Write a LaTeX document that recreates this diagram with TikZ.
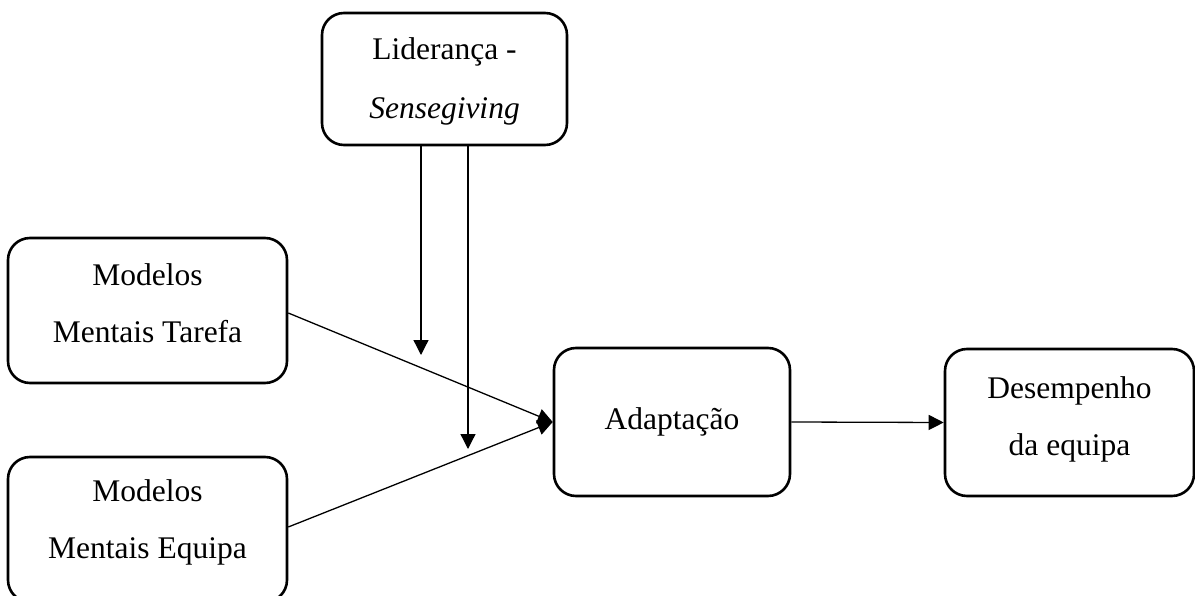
\documentclass[tikz,border=0pt]{standalone}
\usepackage{fontspec}
\setmainfont{Liberation Serif}
\usetikzlibrary{arrows.meta}
\begin{document}
\begin{tikzpicture}[x=1pt,y=-1pt,
  box/.style={draw, line width=2.6pt, rounded corners=22pt, align=center,
    font=\fontsize{31.5}{57}\selectfont, inner sep=0pt},
  arr/.style={line width=1.3pt, -{Triangle[length=15pt,width=15pt]}}]
\useasboundingbox (0,0) rectangle (1195,596);
\node[box, minimum width=245pt, minimum height=132pt, font=\fontsize{31.5}{59}\selectfont, text height=86.5pt] (lid) at (444.5,79) {Liderança -\\\textit{Sensegiving}};
\node[box, minimum width=279pt, minimum height=145pt, text depth=14pt] (tar) at (147.5,310.5) {Modelos\\Mentais Tarefa};
\node[box, minimum width=279pt, minimum height=145pt, text depth=20pt] (eq) at (147.5,529.5) {Modelos\\Mentais Equipa};
\node[box, minimum width=236pt, minimum height=148pt] (ad) at (672,422) {Adaptação};
\node[box, minimum width=249pt, minimum height=147pt, text depth=13pt] (des) at (1069.5,422.5) {Desempenho\\da equipa};
\coordinate (m1) at (421,355);
\coordinate (m2) at (468,449);
\draw[arr] ([xshift=-23.5pt]lid.south) -- (m1);
\draw[arr] ([xshift=23.5pt]lid.south) -- (m2);
\draw[arr] ([yshift=-2.5pt]tar.east) -- (ad.west);
\draw[arr] ([yshift=2.5pt]eq.east) -- (ad.west);
\draw[arr] (ad.east) -- (des.west);
\end{tikzpicture}
\end{document}
